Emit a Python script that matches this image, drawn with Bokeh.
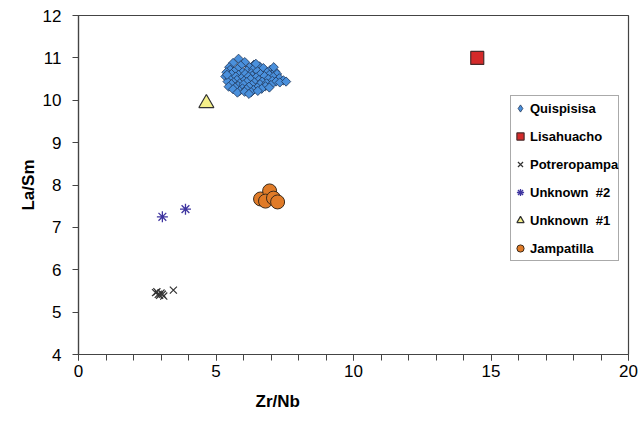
import math
from bokeh.plotting import figure
from bokeh.embed import file_html
from bokeh.resources import INLINE
from bokeh.models import Range1d, FixedTicker, Legend, LegendItem, Title

# ---- data ----
quis_x = [5.82, 5.62, 6.05, 6.38, 5.48, 5.90, 6.22, 6.58, 5.52, 5.78,
          6.12, 6.35, 6.72, 6.98, 7.15, 5.38, 5.66, 5.96, 6.28, 6.50,
          6.86, 7.22, 5.56, 5.82, 6.06, 6.32, 6.62, 6.94, 7.08, 5.34,
          5.72, 5.92, 6.18, 6.46, 6.76, 7.30, 5.50, 5.76, 6.02, 6.26,
          6.56, 6.90, 7.05, 5.42, 5.64, 5.86, 6.12, 6.40, 6.68, 7.18,
          7.45, 5.56, 5.80, 6.00, 6.30, 6.60, 6.84, 7.00, 7.32, 7.55,
          5.46, 5.70, 5.96, 6.20, 6.50, 6.80, 5.62, 5.86, 6.10, 6.36,
          6.66, 6.94, 5.78, 6.04, 6.28, 6.52, 6.20, 5.40, 6.45, 7.10]
quis_y = [10.98, 10.88, 10.90, 10.84, 10.78, 10.82, 10.78, 10.80, 10.72, 10.74,
          10.70, 10.73, 10.76, 10.72, 10.68, 10.66, 10.68, 10.66, 10.64, 10.69,
          10.66, 10.62, 10.62, 10.60, 10.62, 10.58, 10.62, 10.60, 10.55, 10.56,
          10.56, 10.52, 10.56, 10.54, 10.57, 10.52, 10.50, 10.48, 10.46, 10.50,
          10.48, 10.50, 10.46, 10.44, 10.42, 10.40, 10.43, 10.42, 10.44, 10.44,
          10.47, 10.38, 10.34, 10.37, 10.36, 10.38, 10.40, 10.36, 10.42, 10.44,
          10.32, 10.30, 10.28, 10.32, 10.30, 10.33, 10.26, 10.22, 10.26, 10.24,
          10.27, 10.30, 10.18, 10.20, 10.19, 10.22, 10.15, 10.60, 10.86, 10.78]

lisa_x = [14.5]
lisa_y = [11.0]

potr_x = [2.80, 2.85, 2.90, 2.95, 3.00, 3.05, 3.10, 3.45]
potr_y = [5.46, 5.48, 5.42, 5.40, 5.45, 5.42, 5.38, 5.52]

unk2_x = [3.05, 3.89]
unk2_y = [7.25, 7.43]

unk1_x = [4.65]
unk1_y = [9.93]

jamp_x = [6.62, 6.95, 6.80, 7.09, 7.24]
jamp_y = [7.67, 7.86, 7.62, 7.69, 7.60]

x_ticks = [0, 5, 10, 15, 20]
x_minor = list(range(0, 21))
y_ticks = [4, 5, 6, 7, 8, 9, 10, 11, 12]

FONT = "Liberation Sans"

p = figure(width=640, height=420, output_backend="svg", toolbar_location=None,
           x_range=Range1d(0, 20), y_range=Range1d(4, 12),
           min_border_left=78, min_border_right=12, min_border_top=15, min_border_bottom=65)
p.grid.visible = False
p.outline_line_color = "#444444"
p.outline_line_width = 1.2

for ax in (p.xaxis[0], p.yaxis[0]):
    ax.axis_line_color = "#444444"
    ax.axis_line_width = 1.2
    ax.major_tick_line_color = "#444444"
    ax.minor_tick_line_color = "#444444"
    ax.major_tick_in = 0
    ax.major_tick_out = 6
    ax.minor_tick_in = 0
    ax.minor_tick_out = 6
    ax.major_label_text_font = FONT
    ax.major_label_text_font_size = "17px"
    ax.major_label_text_color = "black"
    ax.axis_label_text_font = FONT
    ax.axis_label_text_font_size = "17px"
    ax.axis_label_text_font_style = "bold"
    ax.axis_label_text_color = "black"

p.xaxis.ticker = FixedTicker(ticks=x_ticks, minor_ticks=x_minor)
p.yaxis.ticker = FixedTicker(ticks=y_ticks, minor_ticks=[])
p.yaxis.axis_label = "La/Sm"
p.xaxis.major_label_standoff = 4
p.yaxis.major_label_standoff = 11
p.yaxis.axis_label_standoff = 2

p.add_layout(Title(text="Zr/Nb", align="left", offset=177, text_font=FONT,
                   text_font_size="17px", text_font_style="bold", text_color="black",
                   standoff=20), "below")

r_q = p.scatter(quis_x, quis_y, marker="square", angle=math.pi / 4, size=6.5,
                fill_color="#4A90DC", line_color="#1F3557", line_width=0.8)
# legend-only glyph (hidden renderer) so the legend shows a diamond
r_q_leg = p.scatter(quis_x, quis_y, marker="diamond", size=8, fill_color="#4A90DC",
                    line_color="#1F3557", line_width=0.8, visible=False)
r_l = p.scatter(lisa_x, lisa_y, marker="square", size=13, fill_color="#D42A2A",
                line_color="#4A2A2A", line_width=1.2)
r_p = p.scatter(potr_x, potr_y, marker="x", size=10, line_color="#333333", line_width=1.2)
r_u2 = p.scatter(unk2_x, unk2_y, marker="asterisk", size=11, line_color="#3F35A0", line_width=1.3)
r_u1 = p.scatter(unk1_x, unk1_y, marker="triangle", size=15, fill_color="#F5F08A",
                 line_color="#333333", line_width=1.2)
r_j = p.scatter(jamp_x, jamp_y, marker="circle", size=14, fill_color="#E07B28",
                line_color="#3A2A1A", line_width=1.0)

legend = Legend(items=[
    LegendItem(label="Quispisisa", renderers=[r_q_leg]),
    LegendItem(label="Lisahuacho", renderers=[r_l]),
    LegendItem(label="Potreropampa", renderers=[r_p]),
    LegendItem(label="Unknown  #2", renderers=[r_u2]),
    LegendItem(label="Unknown  #1", renderers=[r_u1]),
    LegendItem(label="Jampatilla", renderers=[r_j]),
], location=(432, 93))
legend.label_text_font = FONT
legend.label_text_font_size = "13px"
legend.label_text_font_style = "bold"
legend.label_text_color = "black"
legend.glyph_width = 18
legend.glyph_height = 24
legend.label_height = 24
legend.spacing = 4
legend.padding = 0
legend.margin = 0
legend.label_standoff = 1
legend.border_line_color = "#555555"
legend.border_line_width = 1
legend.background_fill_alpha = 1
legend.inactive_fill_alpha = 0
p.add_layout(legend, "center")

open("out.html", "w").write(file_html(p, INLINE))
